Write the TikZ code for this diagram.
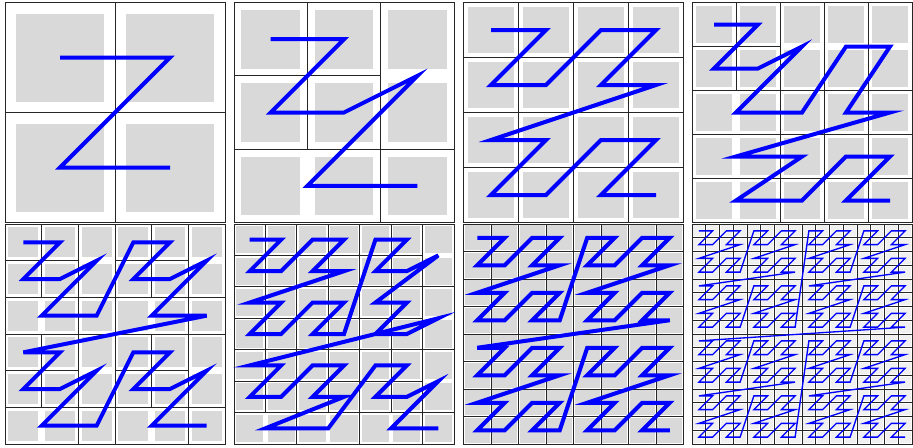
\documentclass[tikz,border=0pt]{standalone}
\usepackage{tikz}

% z-order over a quadtree: #1,#2 first column/row, #3,#4 columns/rows
\newcommand\zquad[4]{%
  \ifnum\numexpr(#3-1)*(#4-1)\relax=0
    \zleaf{#1}{#2}{#3}{#4}%
  \else
    \begingroup
    \edef\zw{\the\numexpr(2*#3+1)/4\relax}%
    \edef\zh{\the\numexpr(2*#4+1)/4\relax}%
    \edef\znext{%
      \noexpand\zquad{#1}{#2}{\zw}{\zh}%
      \noexpand\zquad{\the\numexpr#1+\zw\relax}{#2}{\the\numexpr#3-\zw\relax}{\zh}%
      \noexpand\zquad{#1}{\the\numexpr#2+\zh\relax}{\zw}{\the\numexpr#4-\zh\relax}%
      \noexpand\zquad{\the\numexpr#1+\zw\relax}{\the\numexpr#2+\zh\relax}{\the\numexpr#3-\zw\relax}{\the\numexpr#4-\zh\relax}}%
    \expandafter\endgroup\znext
  \fi}

% one leaf: its frame, and its centre added to the curve
\newcommand\zleaf[4]{%
  \draw[gridline] (#1,#2) rectangle ++(#3,#4);
  \ifx\zpath\empty
    \xdef\zpath{({#1+#3/2},{#2+#4/2})}%
  \else
    \xdef\zpath{\zpath -- ({#1+#3/2},{#2+#4/2})}%
  \fi}

% one panel: x, y, cells, box inset, curve width, box shade
\newcommand\zpanel[6]{%
  \pgfmathsetmacro\zsize{165/#3}
  \begin{scope}[shift={(#1,#2)}, x=\zsize pt, y=-\zsize pt]
    % Boxes
    \foreach \i in {1,...,#3} {
      \foreach \j in {1,...,#3} {
        \fill[gray!#6] (\i-1+#4,\j-1+#4) rectangle (\i-#4,\j-#4);
      }
    }
    % Grid
    \gdef\zpath{}
    \zquad{0}{0}{#3}{#3}
    \draw[gridline] (0,0) rectangle (#3,#3);
    % Curve
    \edef\zcmd{\noexpand\draw[zline, line width=#5] \zpath;}\zcmd
  \end{scope}}

\begin{document}
\begin{tikzpicture}[
    x=0.75pt, y=-0.75pt,
    gridline/.style={draw=black!85, line width=0.75pt},
    zline/.style={draw=blue},
]
    \useasboundingbox (0,0) rectangle (913,447);

    \foreach \n/\px/\py/\gap/\lw/\shade in {
        2/5/2.5/0.1/3pt/30, 3/234/2.5/0.1/3pt/30,
        4/463.5/2.5/0.085/3pt/30, 5/692/2.5/0.09/3pt/30,
        6/5/224/0.09/3pt/30, 7/234/224/0.07/3pt/30,
        8/463.5/224/0.05/3pt/30, 16/692/224/0.1/1pt/12} {
        \zpanel{\px}{\py}{\n}{\gap}{\lw}{\shade}
    }

\end{tikzpicture}
\end{document}
